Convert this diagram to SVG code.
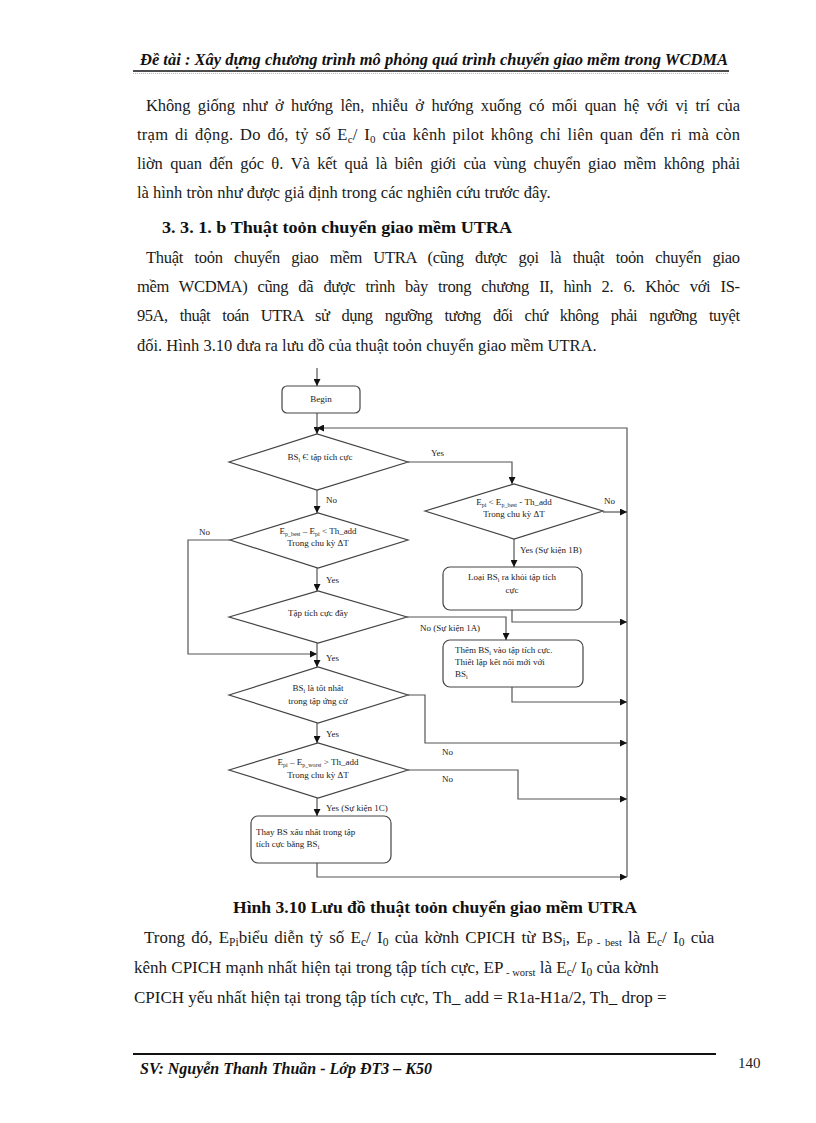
<svg xmlns="http://www.w3.org/2000/svg" width="816" height="1123" viewBox="0 0 816 1123">
<defs>
<style>
.t{font-family:"Liberation Serif","Times New Roman",serif;font-size:16.5px;fill:#1a1a1a}
.u{font-family:"Liberation Serif","Times New Roman",serif;font-size:17px;fill:#1a1a1a}
.hb{font-family:"Liberation Serif","Times New Roman",serif;font-weight:bold;font-style:italic;font-size:16px;fill:#111}
.b{font-family:"Liberation Serif","Times New Roman",serif;font-weight:bold;font-size:17px;fill:#111}
.f{font-family:"Liberation Serif","Times New Roman",serif;font-size:9px;fill:#222}
.s{fill:#fff;stroke:#444;stroke-width:1.2}
.c{fill:none;stroke:#555;stroke-width:1.2}
</style>
<marker id="ah" viewBox="0 0 10 10" refX="10" refY="5" markerWidth="7" markerHeight="7" orient="auto" markerUnits="userSpaceOnUse">
<path d="M0,0 L10,5 L0,10 z" fill="#111"/>
</marker>
</defs>
<rect width="816" height="1123" fill="#fff"/>

<!-- header -->
<text class="hb" x="140" y="65" textLength="588" lengthAdjust="spacingAndGlyphs">Đề tài : Xây dựng chương trình mô phỏng quá trình chuyển giao mềm trong WCDMA</text>
<line x1="133" y1="71" x2="729" y2="71" stroke="#111" stroke-width="1.6"/>
<line x1="133" y1="73.5" x2="729" y2="73.5" stroke="#aaa" stroke-width="0.8" stroke-dasharray="1,1"/>

<!-- paragraph 1 -->
<text class="t" x="146" y="111" word-spacing="3.5" textLength="594" lengthAdjust="spacing">Không giống như ở hướng lên, nhiễu ở hướng xuống có mối quan hệ với vị trí của</text>
<text class="t" x="137" y="140" word-spacing="2.3" textLength="603" lengthAdjust="spacing">trạm di động. Do đó, tỷ số E<tspan font-size="11" dy="3">c</tspan><tspan dy="-3">/ I</tspan><tspan font-size="11" dy="3">0</tspan><tspan dy="-3"> của kênh pilot không chỉ liên quan đến ri mà còn</tspan></text>
<text class="t" x="137" y="169" word-spacing="3.5" textLength="603" lengthAdjust="spacing">liờn quan đến góc θ. Và kết quả là biên giới của vùng chuyển giao mềm không phải</text>
<text class="t" x="137" y="198">là hình tròn như được giả định trong các nghiên cứu trước đây.</text>

<text class="b" x="162" y="233" textLength="350" lengthAdjust="spacingAndGlyphs">3. 3. 1. b  Thuật  toỏn chuyển giao mềm UTRA</text>

<!-- paragraph 2 -->
<text class="t" x="146" y="263" word-spacing="7.5" textLength="594" lengthAdjust="spacing">Thuật  toỏn chuyển giao mềm UTRA (cũng được gọi là thuật toỏn chuyển giao</text>
<text class="t" x="137" y="292" word-spacing="6.5" textLength="603" lengthAdjust="spacing">mềm WCDMA) cũng đã được trình bày trong chương II, hình 2. 6. Khỏc với IS-</text>
<text class="t" x="137" y="321" word-spacing="8.5" textLength="603" lengthAdjust="spacing">95A, thuật toán UTRA sử dụng ngưỡng tương đối chứ không phải ngưỡng tuyệt</text>
<text class="t" x="137" y="351">đối. Hình 3.10 đưa ra lưu đồ của thuật toỏn chuyển giao mềm UTRA.</text>

<!-- connectors -->
<g id="connectors">
<line class="c" x1="317" y1="368" x2="317" y2="386" marker-end="url(#ah)"/>
<line class="c" x1="317" y1="413" x2="317" y2="434" marker-end="url(#ah)"/>
<polyline class="c" points="627,877 627,428 317,428" marker-end="url(#ah)"/>
<polyline class="c" points="408,462 512,462 512,484" marker-end="url(#ah)"/>
<line class="c" x1="317" y1="490" x2="317" y2="513" marker-end="url(#ah)"/>
<line class="c" x1="603" y1="512" x2="627" y2="512" marker-end="url(#ah)"/>
<line class="c" x1="514" y1="539" x2="514" y2="567" marker-end="url(#ah)"/>
<polyline class="c" points="512,610 512,622 627,622" marker-end="url(#ah)"/>
<polyline class="c" points="230,540 188,540 188,654 317,654" marker-end="url(#ah)"/>
<line class="c" x1="317" y1="568" x2="317" y2="591" marker-end="url(#ah)"/>
<polyline class="c" points="407,617 506,617 506,640" marker-end="url(#ah)"/>
<polyline class="c" points="512,687 512,702 627,702" marker-end="url(#ah)"/>
<line class="c" x1="317" y1="643" x2="317" y2="667" marker-end="url(#ah)"/>
<polyline class="c" points="408,695 425,695 425,743 627,743" marker-end="url(#ah)"/>
<line class="c" x1="317" y1="723" x2="317" y2="743" marker-end="url(#ah)"/>
<polyline class="c" points="408,770 518,770 518,799 627,799" marker-end="url(#ah)"/>
<line class="c" x1="317" y1="798" x2="317" y2="816" marker-end="url(#ah)"/>
<polyline class="c" points="317,863 317,877 627,877" marker-end="url(#ah)"/>
<text class="f" x="431" y="456">Yes</text>
<text class="f" x="326" y="503">No</text>
<text class="f" x="604" y="504">No</text>
<text class="f" x="199" y="535">No</text>
<text class="f" x="520" y="553">Yes (Sự kiện 1B)</text>
<text class="f" x="326" y="583">Yes</text>
<text class="f" x="420" y="631">No (Sự kiện 1A)</text>
<text class="f" x="326" y="661">Yes</text>
<text class="f" x="326" y="737">Yes</text>
<text class="f" x="442" y="755">No</text>
<text class="f" x="442" y="782">No</text>
<text class="f" x="326" y="811">Yes (Sự kiện 1C)</text>
</g>

<!-- nodes -->
<g id="begin">
<rect class="s" x="282" y="386" width="78" height="27" rx="5"/>
<text class="f" x="321" y="402" text-anchor="middle">Begin</text>
</g>
<g id="d1">
<polygon class="s" points="229,462 317,434 408,462 317,490"/>
<text class="f" x="320" y="460" text-anchor="middle">BS<tspan font-size="6" dy="2">i</tspan><tspan dy="-2"> Є tập tích cực</tspan></text>
</g>
<g id="d2">
<polygon class="s" points="425,511 514,484 603,511 514,539"/>
<text class="f" x="514" y="505" text-anchor="middle">E<tspan font-size="6" dy="2">pi</tspan><tspan dy="-2"> &lt; E</tspan><tspan font-size="6" dy="2">p_best</tspan><tspan dy="-2"> - Th_add</tspan></text>
<text class="f" x="514" y="517" text-anchor="middle">Trong chu kỳ ΔT</text>
</g>
<g id="r1">
<rect class="s" x="443" y="567" width="139" height="43" rx="7"/>
<text class="f" x="512" y="580" text-anchor="middle">Loại BS<tspan font-size="6" dy="2">i</tspan><tspan dy="-2"> ra khỏi tập tích</tspan></text>
<text class="f" x="512" y="593" text-anchor="middle">cực</text>
</g>
<g id="d3">
<polygon class="s" points="230,540 318,513 408,540 318,568"/>
<text class="f" x="318" y="534" text-anchor="middle">E<tspan font-size="6" dy="2">p_best</tspan><tspan dy="-2"> – E</tspan><tspan font-size="6" dy="2">pi</tspan><tspan dy="-2"> &lt; Th_add</tspan></text>
<text class="f" x="318" y="546" text-anchor="middle">Trong chu kỳ ΔT</text>
</g>
<g id="d4">
<polygon class="s" points="229,617 318,591 407,617 318,643"/>
<text class="f" x="318" y="616" text-anchor="middle">Tập tích cực đầy</text>
</g>
<g id="r2">
<rect class="s" x="443" y="640" width="140" height="47" rx="7"/>
<text class="f" x="455" y="653">Thêm BS<tspan font-size="6" dy="2">i</tspan><tspan dy="-2"> vào tập tích cực.</tspan></text>
<text class="f" x="455" y="665">Thiết lập kết nối mới với</text>
<text class="f" x="455" y="677">BS<tspan font-size="6" dy="2">i</tspan></text>
</g>
<g id="d5">
<polygon class="s" points="229,695 318,667 408,695 318,723"/>
<text class="f" x="318" y="691" text-anchor="middle">BS<tspan font-size="6" dy="2">i</tspan><tspan dy="-2"> là tốt nhất</tspan></text>
<text class="f" x="318" y="704" text-anchor="middle">trong tập ứng cử</text>
</g>
<g id="d6">
<polygon class="s" points="229,770 318,743 408,770 318,798"/>
<text class="f" x="318" y="765" text-anchor="middle">E<tspan font-size="6" dy="2">pi</tspan><tspan dy="-2"> – E</tspan><tspan font-size="6" dy="2">p_worst</tspan><tspan dy="-2"> &gt; Th_add</tspan></text>
<text class="f" x="318" y="778" text-anchor="middle">Trong chu kỳ ΔT</text>
</g>
<g id="r3">
<rect class="s" x="251" y="816" width="140" height="47" rx="7"/>
<text class="f" x="256" y="835">Thay BS xấu nhất trong tập</text>
<text class="f" x="256" y="847">tích cực bằng BS<tspan font-size="6" dy="2">i</tspan></text>
</g>

<text class="b" x="233" y="913" textLength="404" lengthAdjust="spacingAndGlyphs">Hình 3.10 Lưu  đồ thuật toỏn chuyển giao mềm UTRA</text>

<!-- bottom paragraph -->
<text class="u" x="144" y="943" word-spacing="2">Trong đó, E<tspan font-size="11.5" dy="3">Pi</tspan><tspan dy="-3">biểu diễn tỷ số E</tspan><tspan font-size="11.5" dy="3">c</tspan><tspan dy="-3">/ I</tspan><tspan font-size="11.5" dy="3">0</tspan><tspan dy="-3">  của kờnh CPICH từ BS</tspan><tspan font-size="11.5" dy="3">i</tspan><tspan dy="-3">, E</tspan><tspan font-size="10.5" dy="3">P - best</tspan><tspan dy="-3">  là E</tspan><tspan font-size="11.5" dy="3">c</tspan><tspan dy="-3">/ I</tspan><tspan font-size="11.5" dy="3">0</tspan><tspan dy="-3"> của</tspan></text>
<text class="u" x="134" y="973">kênh CPICH mạnh nhất hiện tại trong tập tích cực, EP<tspan font-size="10.5" dy="3"> - worst</tspan><tspan dy="-3"> là E</tspan><tspan font-size="11.5" dy="3">c</tspan><tspan dy="-3">/ I</tspan><tspan font-size="11.5" dy="3">0</tspan><tspan dy="-3"> của kờnh</tspan></text>
<text class="u" x="134" y="1003">CPICH yếu nhất hiện tại trong tập tích cực, Th_ add = R1a-H1a/2, Th_ drop =</text>

<!-- footer -->
<line x1="133" y1="1054" x2="716" y2="1054" stroke="#111" stroke-width="2"/>
<text class="hb" x="140" y="1074" font-size="16.5">SV: Nguyễn Thanh Thuần - Lớp ĐT3 – K50</text>
<text x="738" y="1068" font-family="Liberation Serif, Times New Roman, serif" font-size="15" fill="#222">140</text>
</svg>
